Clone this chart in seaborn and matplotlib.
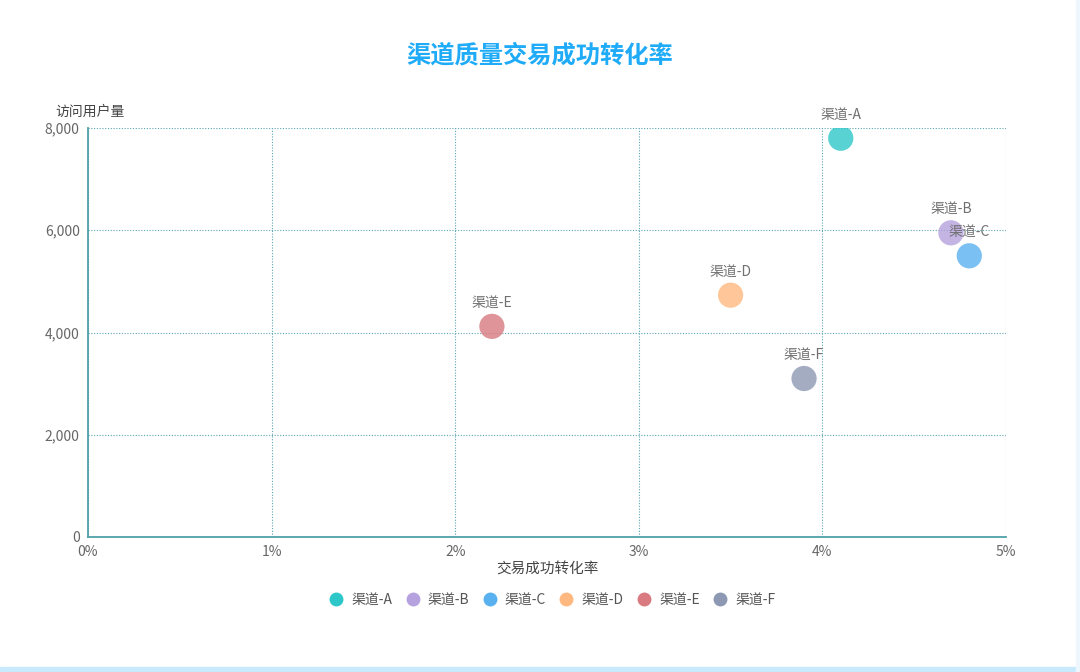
import matplotlib.pyplot as plt
import seaborn as sns
import pandas as pd
from matplotlib.patches import Rectangle
from matplotlib.ticker import FuncFormatter

channels = ["渠道-A", "渠道-B", "渠道-C", "渠道-D", "渠道-E", "渠道-F"]
conversion = [4.1, 4.7, 4.8, 3.5, 2.2, 3.9]   # %
visitors = [7800, 5950, 5500, 4730, 4120, 3100]
colors = ["#2ec7c9", "#b6a2de", "#5ab1ef", "#ffb980", "#d87a80", "#8d98b3"]

df = pd.DataFrame({"渠道": channels, "转化率": conversion, "访问用户量": visitors})

sns.set_style("white")
plt.rcParams["font.family"] = ["Noto Sans CJK SC", "DejaVu Sans"]

fig = plt.figure(figsize=(10.8, 6.72), dpi=100)
ax = fig.add_axes([88 / 1080, 1 - 537 / 672, 918 / 1080, 409 / 672])

sns.scatterplot(data=df, x="转化率", y="访问用户量", hue="渠道",
                palette=dict(zip(channels, colors)), s=330, alpha=0.8,
                edgecolor="none", legend=False, ax=ax, zorder=3)

# 点上方的标签
for c, x, y in zip(channels, conversion, visitors):
    ax.annotate(c, (x, y), xytext=(0, 12), textcoords="offset points",
                ha="center", va="bottom", fontsize=10, color="#707070")

axis_col = "#4fa0a8"
ax.set_xlim(0, 5)
ax.set_ylim(0, 8000)
ax.set_xticks(range(6))
ax.set_yticks(range(0, 8001, 2000))
ax.xaxis.set_major_formatter(FuncFormatter(lambda v, p: f"{v:.0f}%"))
ax.yaxis.set_major_formatter(FuncFormatter(lambda v, p: f"{v:,.0f}"))
ax.tick_params(axis="both", colors=axis_col, labelcolor="#666666", labelsize=10,
               length=4, width=1, direction="out", pad=2)
ax.grid(True, linestyle=(0, (1, 1.5)), color="#5aa6b0", linewidth=0.8)
for side in ["top", "right"]:
    ax.spines[side].set_visible(False)
for side in ["left", "bottom"]:
    ax.spines[side].set_color(axis_col)
    ax.spines[side].set_linewidth(1.3)
ax.set_xlabel("交易成功转化率", fontsize=10.5, color="#444444", labelpad=2)
ax.set_ylabel("")
ax.text(-0.036, 1.04, "访问用户量", transform=ax.transAxes, fontsize=10,
        color="#444444", ha="left", va="center")

fig.text(0.5, 1 - 55 / 672, "渠道质量交易成功转化率", ha="center", va="center",
         fontsize=17.5, fontweight="bold", color="#1fabf7")

# 图例
handles = [plt.Line2D([], [], marker="o", linestyle="", markersize=10,
                      markerfacecolor=col, markeredgecolor="none")
           for col in colors]
fig.legend(handles, channels, loc="center", bbox_to_anchor=(0.51, 1 - 600 / 672),
           ncol=6, frameon=False, fontsize=10, handletextpad=0.4, handlelength=1.4,
           columnspacing=0.75, labelcolor="#555555")

# 卡片边框
fig.patches.append(Rectangle((0, 0), 1, 5 / 672, transform=fig.transFigure,
                             color="#c8eafc", zorder=0))
fig.patches.append(Rectangle((1 - 4 / 1080, 0), 4 / 1080, 1, transform=fig.transFigure,
                             color="#eef7fd", zorder=0))

fig.savefig("out.png", dpi=100, facecolor="white")
